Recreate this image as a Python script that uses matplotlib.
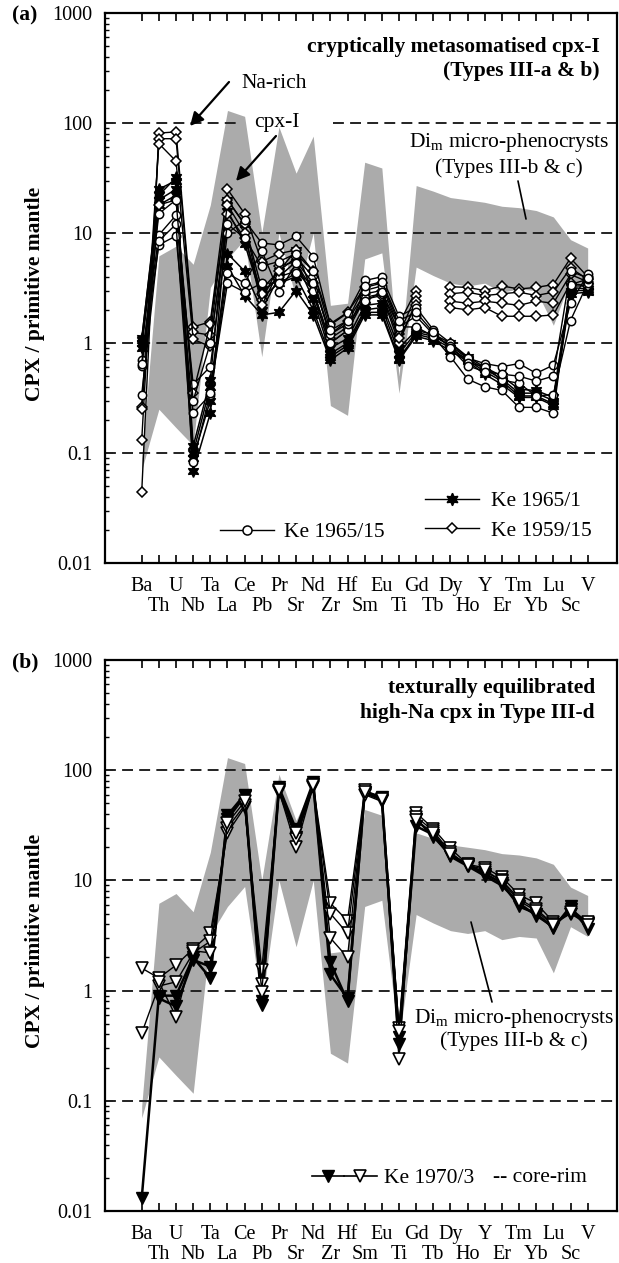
import numpy as np
import matplotlib
matplotlib.use('Agg')
import matplotlib.pyplot as plt
from matplotlib.ticker import FixedLocator, LogLocator, FuncFormatter, NullFormatter, FixedFormatter
from matplotlib.legend_handler import HandlerTuple
from matplotlib.lines import Line2D

plt.rcParams['font.family'] = ['Liberation Serif', 'DejaVu Serif']
plt.rcParams['mathtext.fontset'] = 'custom'
plt.rcParams['mathtext.rm'] = 'Liberation Serif'
plt.rcParams['mathtext.it'] = 'Liberation Serif:italic'
plt.rcParams['mathtext.bf'] = 'Liberation Serif:bold'

nan = np.nan

# ---------------- data ----------------
elements = ['Ba', 'Th', 'U', 'Nb', 'Ta', 'La', 'Ce', 'Pb', 'Pr', 'Sr', 'Nd', 'Zr', 'Hf', 'Sm',
            'Eu', 'Ti', 'Gd', 'Tb', 'Dy', 'Ho', 'Y', 'Er', 'Tm', 'Yb', 'Lu', 'Sc', 'V']

# Di_m micro-phenocryst field (Types III-b & c)
band_upper = [0.09, 6.2, 7.6, 5.2, 18, 130, 115, 10, 92, 35, 76, 2.2, 2.3, 44,
              39, 0.5, 27, 24, 21, 20, 19, 17.5, 17, 16, 14, 8.7, 7.3]
band_lower = [0.07, 0.25, 0.17, 0.117, 3.2, 5.8, 8.8, 0.75, 10, 2.5, 10, 0.27, 0.22, 5.8,
              6.6, 0.35, 4.9, 4.1, 3.5, 3.3, 3.5, 2.9, 3.1, 3.0, 1.45, 3.8, 3.1]

# Ke 1965/1 (filled stars)
ke1965_1 = [
    [1.06, 25, 30, 0.115, 0.46, 20, 12, 3.1, 4.5, 7.0, 2.8, 0.9, 1.1, 2.2, 2.3, 0.9, 1.3, 1.2, 1.0, 0.75, 0.6, 0.5, 0.38, 0.37, 0.32, 3.3, 3.3],
    [1.0, 20, 25, 0.068, 0.23, 16, 8, 2.6, 3.5, 4.0, 2.0, 0.75, 0.95, 1.9, 1.9, 0.72, 1.2, 1.1, 0.9, 0.7, 0.55, 0.45, 0.33, 0.33, 0.28, 3.0, 3.0],
    [1.1, 22, 32, 0.09, 0.3, 6.5, 4.5, 2.0, 4.0, 5.5, 2.5, 0.8, 1.0, 2.0, 2.1, 0.8, 1.25, 1.15, 0.95, 0.72, 0.58, 0.47, 0.35, 0.35, 0.3, 3.2, 3.1],
    [0.9, 18, 22, 0.1, 0.4, 5.0, 2.7, 1.8, 1.9, 3.0, 1.8, 0.7, 0.9, 1.8, 1.8, 0.7, 1.15, 1.05, 0.85, 0.68, 0.52, 0.42, 0.32, 0.32, 0.27, 2.8, 2.9],
]
# Ke 1965/15 (open circles)
ke1965_15 = [
    [0.70, 9.6, 14.5, 0.42, 0.61, 10, 13, 8.1, 7.8, 9.3, 6.1, 1.46, 1.87, 3.7, 4.0, 1.75, 2.1, 1.32, 1.0, 0.73, 0.65, 0.61, 0.65, 0.53, 0.63, 2.3, 4.2],
    [0.62, 7.8, 9.4, 0.23, 0.34, 4.3, 3.5, 6.9, 2.9, 5.3, 3.0, 1.0, 1.3, 3.0, 3.3, 1.4, 1.75, 1.2, 0.93, 0.66, 0.61, 0.46, 0.43, 0.33, 0.34, 1.6, 3.5],
    [0.34, 8.5, 12, 0.083, 0.35, 3.5, 2.9, 3.5, 3.5, 4.3, 3.5, 1.2, 1.5, 2.4, 2.9, 1.4, 1.4, 1.15, 0.75, 0.47, 0.4, 0.37, 0.26, 0.26, 0.23, 3.4, 3.8],
    [0.65, 15, 20, 0.3, 1.0, 12, 9, 5.0, 5.5, 6.5, 4.5, 1.3, 1.6, 3.3, 3.6, 1.6, 1.9, 1.25, 0.9, 0.62, 0.55, 0.52, 0.5, 0.45, 0.5, 4.5, 3.9],
]
# Ke 1959/15 (open diamonds)
ke1959_15 = [
    [0.044, 81, 83, 1.4, 1.56, 25, 15, 5.5, 6.5, 7.0, 4.5, 1.5, 1.9, 3.2, 3.5, 1.5, 3.0, nan, 3.25, 3.2, 3.0, 3.3, 3.1, 3.2, 3.4, 5.9, 4.0],
    [0.13, 72, 72, 1.25, 1.18, 20, 12, 2.45, 5.0, 5.5, 3.5, 1.2, 1.6, 2.8, 3.0, 1.2, 2.7, nan, 2.8, 2.9, 2.7, 2.8, 2.9, 2.7, 2.9, 4.8, 3.8],
    [0.26, 65, 45, 1.08, 0.93, 15, 9, 2.8, 4.0, 4.5, 3.0, 1.0, 1.3, 2.5, 2.7, 1.0, 2.4, nan, 2.4, 2.3, 2.4, 2.3, 2.2, 2.4, 2.3, 4.2, 3.6],
    [0.25, 18, 20, 0.35, 1.5, 18, 10, 2.2, 4.5, 6.0, 4.0, 1.1, 1.4, 2.6, 2.8, 1.1, 2.2, nan, 2.1, 2.0, 2.1, 1.75, 1.75, 1.75, 1.8, 3.5, 3.3],
]
# Ke 1970/3 cores (filled triangles) and rims (open triangles)
ke1970_core = [
    [0.013, 0.9, 0.9, 2.0, 1.3, 39, 60, 0.8, 70, 29, 78, 1.8, 0.8, 64, 57, 0.33, 36, 25, 17, 14, 11.5, 9.5, 5.8, 5.0, 3.7, 5.8, 3.6],
    [nan, 0.85, 0.72, 1.9, 1.65, 36, 58, 0.74, 67, 25, 75, 1.4, 0.85, 62, 54, 0.38, 31, 26, 16.5, 13.5, 11, 9, 6.2, 4.8, 3.8, 5.5, 4.1],
]
ke1970_rim = [
    [1.6, 1.3, 1.7, 2.4, 3.3, 27, 46, 1.55, 65, 20, 72, 6.2, 4.3, 66, 55, 0.46, 41, 29.5, 19.5, 14, 13, 10.7, 7.4, 6.2, 4.2, 5.0, 4.0],
    [0.41, 1.1, 1.2, 2.2, 2.8, 30, 48, 1.15, 63, 24, 70, 5.0, 3.3, 60, 52, 0.24, 38, 28, 18, 13.5, 12, 10, 6.8, 5.5, 4.0, 5.0, 4.2],
    [nan, 1.2, 0.58, 2.3, 2.2, 33, 52, 0.98, 66, 27, 74, 3.0, 2.0, 63, 55, 0.43, 35, 27, 17.5, 13.8, 12.5, 9.8, 6.5, 5.3, 3.9, 5.2, 3.9],
]

ytick_vals = [0.01, 0.1, 1, 10, 100, 1000]
ytick_labels = ['0.01', '0.1', '1', '10', '100', '1000']

# ---------------- layout helpers ----------------
W, H = 619, 1263
GREY = '#ababab'


def F(px, py):
    return (px / W, 1 - py / H)


fig = plt.figure(figsize=(W / 100, H / 100), dpi=100)
ax_a = fig.add_axes([105 / W, 1 - 563 / H, 512 / W, 550 / H])
ax_b = fig.add_axes([105 / W, 1 - 1211 / H, 512 / W, 551 / H])

x = np.arange(len(elements))
TICKFS = 14.5
TXTFS = 15.5


def setup(ax, gap100=None):
    ax.set_yscale('log')
    ax.set_ylim(0.01, 1000)
    ax.set_xlim(-2.14, 27.71)
    ax.fill_between(x, band_lower, band_upper, color=GREY, lw=0, zorder=1)
    for v in [0.1, 1, 10, 100]:
        if v == 100 and gap100 is not None:
            ax.axhline(v, xmin=0, xmax=gap100[0], color='#222222', lw=1.4, dashes=(5.6, 3.2), zorder=2)
            ax.axhline(v, xmin=gap100[1], xmax=1, color='#222222', lw=1.4, dashes=(5.6, 3.2), zorder=2)
        else:
            ax.axhline(v, color='#222222', lw=1.4, dashes=(5.6, 3.2), zorder=2)
    # even elements on the first row, odd elements on the second row
    ax.xaxis.set_major_locator(FixedLocator(x[0::2]))
    ax.xaxis.set_major_formatter(FixedFormatter(elements[0::2]))
    ax.xaxis.set_minor_locator(FixedLocator(x[1::2]))
    ax.xaxis.set_minor_formatter(FixedFormatter(elements[1::2]))
    ax.yaxis.set_major_locator(FixedLocator(ytick_vals))
    ax.yaxis.set_major_formatter(FuncFormatter(lambda v, p: ytick_labels[ytick_vals.index(v)]
                                               if v in ytick_vals else ''))
    ax.yaxis.set_minor_locator(LogLocator(base=10, subs=np.arange(2, 10)))
    ax.yaxis.set_minor_formatter(NullFormatter())
    ax.tick_params(axis='x', which='major', direction='in', length=5.5, width=1.2,
                   top=True, bottom=True, pad=10, labelsize=TICKFS)
    ax.tick_params(axis='x', which='minor', direction='in', length=5.5, width=1.2,
                   top=True, bottom=True, pad=24.5, labelsize=TICKFS)
    ax.tick_params(axis='y', which='major', direction='in', length=6, width=1.2,
                   left=True, right=False, labelsize=TICKFS, pad=9)
    ax.tick_params(axis='y', which='minor', direction='in', length=3.2, width=1.0,
                   left=True, right=False)
    for s in ax.spines.values():
        s.set_linewidth(1.6)
    ax.set_ylabel('CPX / primitive mantle', fontsize=TXTFS, fontweight='bold')
    ax.yaxis.set_label_coords(-0.117, 0.49)


setup(ax_a, gap100=((240 - 105) / 512, (333 - 105) / 512))
setup(ax_b)

# ---------------- panel (a) ----------------
star = (6, 1, 0)
for s in ke1965_1:
    ax_a.plot(x, s, color='k', lw=1.1, marker=star, ms=8.5, mfc='k', mec='k', zorder=3)
for s in ke1959_15:
    ax_a.plot(x, s, color='k', lw=1.0, marker='D', ms=5.2, mfc='white', mec='k', mew=1.1, zorder=4)
for s in ke1965_15:
    ax_a.plot(x, s, color='k', lw=1.0, marker='o', ms=6.0, mfc='white', mec='k', mew=1.1, zorder=5)

h_star = Line2D([], [], color='k', lw=1.0, marker=star, ms=9, mfc='k', mec='k')
h_dia = Line2D([], [], color='k', lw=1.0, marker='D', ms=5.5, mfc='white', mec='k', mew=1.1)
h_circ = Line2D([], [], color='k', lw=1.0, marker='o', ms=6.5, mfc='white', mec='k', mew=1.1)
leg1 = ax_a.legend([h_star, h_dia], ['Ke 1965/1', 'Ke 1959/15'], loc='center left',
                   bbox_to_anchor=F(425, 516), bbox_transform=fig.transFigure, frameon=False,
                   fontsize=TXTFS, handlelength=2.5, handletextpad=0.55, labelspacing=0.42,
                   borderpad=0, borderaxespad=0, numpoints=1)
ax_a.add_artist(leg1)
ax_a.legend([h_circ], ['Ke 1965/15'], loc='center left',
            bbox_to_anchor=F(220, 532), bbox_transform=fig.transFigure, frameon=False,
            fontsize=TXTFS, handlelength=2.5, handletextpad=0.45,
            borderpad=0, borderaxespad=0, numpoints=1)

fig.text(*F(600, 47), 'cryptically metasomatised cpx-I', ha='right', va='center',
         fontsize=TXTFS, fontweight='bold')
fig.text(*F(600, 71), '(Types III-a & b)', ha='right', va='center',
         fontsize=TXTFS, fontweight='bold')
fig.text(*F(12, 15), '(a)', ha='left', va='center', fontsize=TXTFS, fontweight='bold')

arrow = dict(arrowstyle='-|>', color='k', lw=1.6, mutation_scale=20, shrinkA=0, shrinkB=0)
fig.text(*F(241, 84), 'Na-rich', ha='left', va='center', fontsize=TXTFS)
ax_a.annotate('', xy=F(190, 126), xytext=F(229, 82), xycoords='figure fraction',
              textcoords='figure fraction', arrowprops=arrow)
fig.text(*F(254, 122), 'cpx-I', ha='left', va='center', fontsize=TXTFS)
ax_a.annotate('', xy=F(236, 181), xytext=F(276, 136), xycoords='figure fraction',
              textcoords='figure fraction', arrowprops=arrow)

fig.text(*F(509, 143), r'Di$_{\rm m}$ micro-phenocrysts', ha='center', va='center', fontsize=TXTFS)
fig.text(*F(509, 168), '(Types III-b & c)', ha='center', va='center', fontsize=TXTFS)
ax_a.annotate('', xy=F(526, 219), xytext=F(518, 181), xycoords='figure fraction',
              textcoords='figure fraction',
              arrowprops=dict(arrowstyle='-', color='k', lw=1.2, shrinkA=0, shrinkB=0))

# ---------------- panel (b) ----------------
for s in ke1970_core:
    ax_b.plot(x, s, color='k', lw=1.8, marker='v', ms=9, mfc='k', mec='k', zorder=3)
for s in ke1970_rim:
    ax_b.plot(x, s, color='k', lw=1.0, marker='v', ms=9, mfc='white', mec='k', mew=1.2, zorder=4)

h_core = Line2D([], [], color='k', lw=1.2, marker='v', ms=9, mfc='k', mec='k')
h_rim = Line2D([], [], color='k', lw=1.2, marker='v', ms=9, mfc='white', mec='k', mew=1.2)
ax_b.legend([(h_core, h_rim)], ['Ke 1970/3'], loc='center left',
            bbox_to_anchor=F(312, 1178), bbox_transform=fig.transFigure, frameon=False,
            fontsize=TXTFS, handlelength=3.0, handletextpad=0.35, borderpad=0, borderaxespad=0,
            numpoints=1, handler_map={tuple: HandlerTuple(ndivide=None, pad=0)})
fig.text(*F(493, 1178), '-- core-rim', ha='left', va='center', fontsize=TXTFS)

fig.text(*F(595, 688), 'texturally equilibrated', ha='right', va='center',
         fontsize=TXTFS, fontweight='bold')
fig.text(*F(595, 713), 'high-Na cpx in Type III-d', ha='right', va='center',
         fontsize=TXTFS, fontweight='bold')
fig.text(*F(12, 662), '(b)', ha='left', va='center', fontsize=TXTFS, fontweight='bold')

fig.text(*F(514, 1018), r'Di$_{\rm m}$ micro-phenocrysts', ha='center', va='center', fontsize=TXTFS)
fig.text(*F(514, 1041), '(Types III-b & c)', ha='center', va='center', fontsize=TXTFS)
ax_b.annotate('', xy=F(471, 922), xytext=F(492, 1002), xycoords='figure fraction',
              textcoords='figure fraction',
              arrowprops=dict(arrowstyle='-', color='k', lw=1.2, shrinkA=0, shrinkB=0))

fig.savefig('out.png', dpi=100)
